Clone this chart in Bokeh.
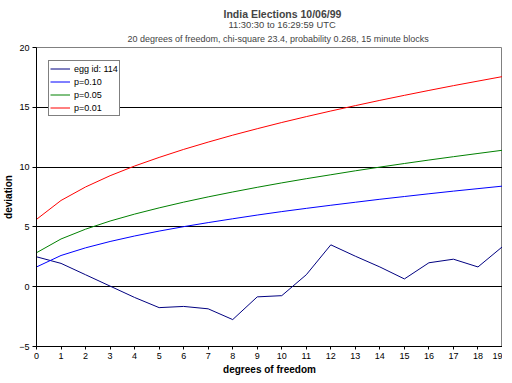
from bokeh.plotting import figure
from bokeh.models import Range1d, FixedTicker, Legend, LegendItem, Title
from bokeh.embed import file_html
from bokeh.resources import INLINE

dof = list(range(20))
egg_114 = [2.5, 1.95, 1.0, 0.05, -0.9, -1.75, -1.65, -1.85, -2.75, -0.85,
           -0.75, 1.0, 3.5, 2.55, 1.65, 0.65, 2.0, 2.3, 1.65, 3.35]
p_010 = [1.65, 2.61, 3.25, 3.78, 4.24, 4.65, 5.02, 5.36, 5.68, 5.99,
         6.28, 6.55, 6.81, 7.06, 7.31, 7.54, 7.77, 7.99, 8.20, 8.41]
p_005 = [2.84, 3.99, 4.81, 5.49, 6.07, 6.59, 7.07, 7.51, 7.92, 8.31,
         8.68, 9.03, 9.36, 9.69, 10.00, 10.30, 10.59, 10.87, 11.14, 11.41]
p_001 = [5.63, 7.21, 8.34, 9.28, 10.09, 10.81, 11.48, 12.09, 12.67, 13.21,
         13.73, 14.22, 14.69, 15.14, 15.58, 16.00, 16.41, 16.81, 17.19, 17.57]
y_ticks = [-5, 0, 5, 10, 15, 20]
grid_ticks = [0, 5, 10, 15]

FONT = "Liberation Sans"

p = figure(frame_width=466, frame_height=299, output_backend="svg", toolbar_location=None,
           x_range=Range1d(0, 19), y_range=Range1d(-5, 20),
           min_border_left=28, min_border_right=0, min_border_top=0, min_border_bottom=0)
p.background_fill_color = "white"
p.border_fill_color = "white"
p.outline_line_color = "#808080"
p.outline_line_width = 1

t3 = Title(text="20 degrees of freedom,  chi-square 23.4, probability 0.268, 15 minute blocks",
           align="left", text_font=FONT, text_font_size="9px", text_font_style="normal",
           standoff=8, offset=91)
t2 = Title(text="11:30:30 to 16:29:59 UTC", align="left", text_font=FONT,
           text_font_size="9.4px", text_font_style="normal", standoff=-5, offset=192)
t1 = Title(text="India Elections 10/06/99", align="left", text_font=FONT,
           text_font_size="10.5px", text_font_style="bold", standoff=0, offset=187)
t0 = Title(text=" ", align="left", text_font=FONT, text_font_size="3px", standoff=0)
p.add_layout(t3, "above")
p.add_layout(t2, "above")
p.add_layout(t1, "above")
p.add_layout(t0, "above")

r_egg = p.line(dof, egg_114, line_color="#000080", line_width=1)
r_10 = p.line(dof, p_010, line_color="#0000FF", line_width=1)
r_05 = p.line(dof, p_005, line_color="#008000", line_width=1)
r_01 = p.line(dof, p_001, line_color="#FF0000", line_width=1)

p.xgrid.visible = False
p.ygrid.ticker = FixedTicker(ticks=grid_ticks)
p.ygrid.grid_line_color = "black"
p.ygrid.grid_line_width = 1

p.yaxis.ticker = FixedTicker(ticks=y_ticks)
p.xaxis.ticker = FixedTicker(ticks=dof)
for ax in (p.xaxis, p.yaxis):
    ax.axis_line_color = "black"
    ax.major_tick_line_color = "black"
    ax.minor_tick_line_color = None
    ax.major_tick_in = 0
    ax.major_label_text_font = FONT
    ax.major_label_text_font_size = "9px"
    ax.major_label_text_color = "black"
    ax.axis_label_text_font = FONT
    ax.axis_label_text_font_size = "10px"
    ax.axis_label_text_font_style = "bold"
    ax.axis_label_text_color = "black"
p.yaxis.major_tick_out = 4
p.xaxis.major_tick_out = 3
p.yaxis.major_label_standoff = 3
p.xaxis.major_label_standoff = 3
p.yaxis.axis_label = "deviation"
p.xaxis.axis_label = "degrees of freedom"
p.yaxis.axis_label_standoff = 2
p.xaxis.axis_label_standoff = 2

legend = Legend(items=[LegendItem(label="egg id: 114", renderers=[r_egg]),
                       LegendItem(label="p=0.10", renderers=[r_10]),
                       LegendItem(label="p=0.05", renderers=[r_05]),
                       LegendItem(label="p=0.01", renderers=[r_01])],
                location=(12, 230))
legend.border_line_color = "black"
legend.border_line_width = 1
legend.background_fill_color = "white"
legend.background_fill_alpha = 1
legend.padding = 1
legend.margin = 0
legend.spacing = 0
legend.label_height = 13
legend.glyph_height = 13
legend.glyph_width = 20
legend.label_standoff = 4
legend.label_text_font = FONT
legend.label_text_font_size = "9px"
legend.label_text_color = "black"
p.add_layout(legend, "center")

open("out.html", "w").write(file_html(p, INLINE))
